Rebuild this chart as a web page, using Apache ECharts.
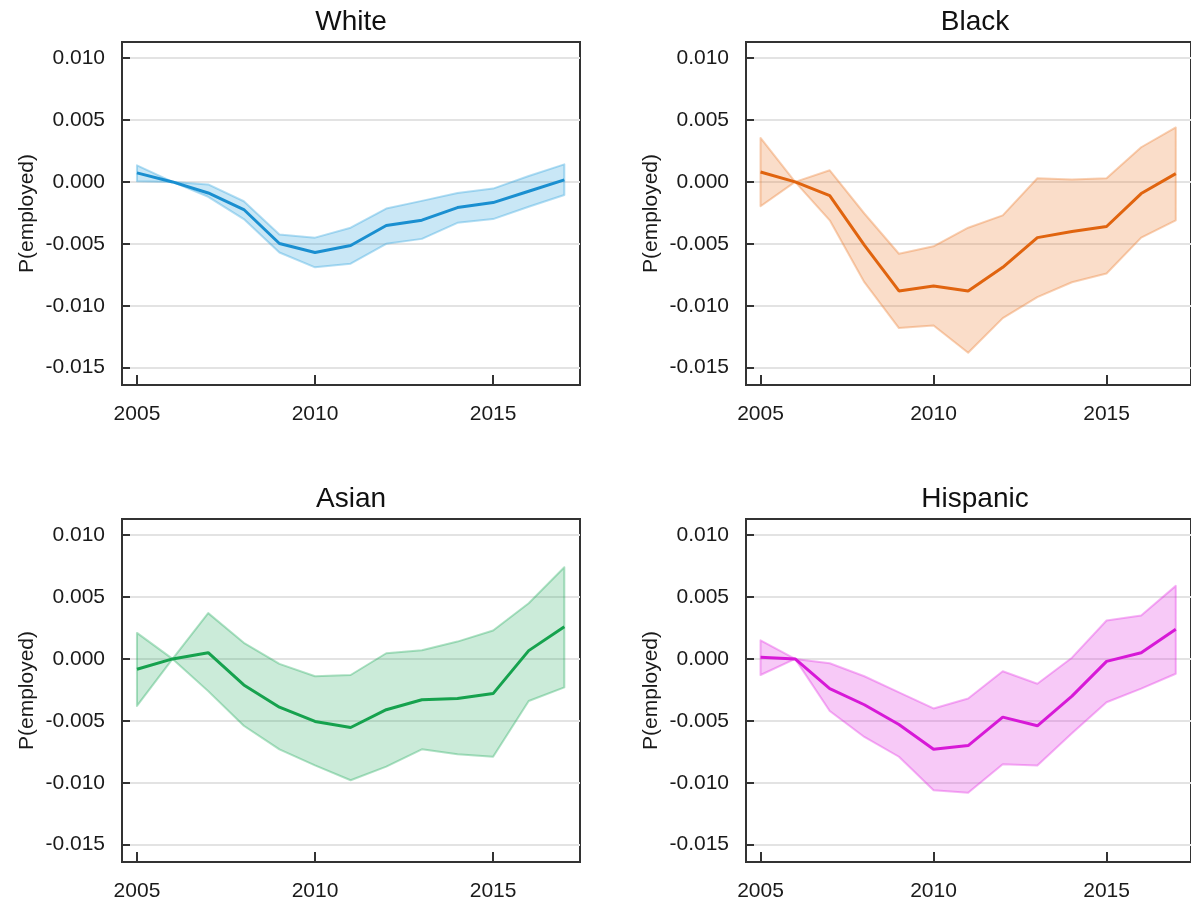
<!DOCTYPE html>
<html>
<head>
<meta charset="utf-8">
<script src="https://cdn.jsdelivr.net/npm/echarts@6/dist/echarts.min.js"></script>
<style>
  html, body { margin: 0; padding: 0; background: #fff; }
  #main { width: 1191px; height: 906px; }
</style>
</head>
<body>
<div id="main"></div>
<script>
// years on the x axis
const years = [2005, 2006, 2007, 2008, 2009, 2010, 2011, 2012, 2013, 2014, 2015, 2016, 2017];
const xTicks = [2005, 2010, 2015];
const yTicks = [-0.015, -0.010, -0.005, 0, 0.005, 0.010];

// White
const whiteMean  = [0.00073, 0, -0.00089, -0.00223, -0.00497, -0.0057, -0.00513, -0.00352, -0.00309, -0.00207, -0.00167, -0.00075, 0.00017];
const whiteUpper = [0.00134, 0, -0.0002, -0.00156, -0.00425, -0.0045, -0.0037, -0.00215, -0.00153, -0.00089, -0.00054, 0.00048, 0.00142];
const whiteLower = [0.00005, 0, -0.0012, -0.003, -0.0057, -0.0069, -0.0066, -0.005, -0.0046, -0.0033, -0.003, -0.002, -0.00105];

// Black
const blackMean  = [0.0008, 0, -0.0011, -0.0051, -0.0088, -0.0084, -0.0088, -0.0069, -0.0045, -0.004, -0.0036, -0.00094, 0.00067];
const blackUpper = [0.00355, 0, 0.00094, -0.00255, -0.0058, -0.0052, -0.0037, -0.0027, 0.0003, 0.0002, 0.0003, 0.0028, 0.0044];
const blackLower = [-0.00196, 0, -0.0031, -0.0081, -0.0118, -0.0116, -0.0138, -0.011, -0.0093, -0.0081, -0.0074, -0.0045, -0.0031];

// Asian
const asianMean  = [-0.00083, 0, 0.0005, -0.0021, -0.0039, -0.00505, -0.00554, -0.0041, -0.0033, -0.0032, -0.0028, 0.00067, 0.0026];
const asianUpper = [0.0021, 0, 0.0037, 0.0013, -0.0004, -0.0014, -0.0013, 0.00046, 0.0007, 0.0014, 0.0023, 0.0045, 0.0074];
const asianLower = [-0.0038, 0, -0.0026, -0.0054, -0.0073, -0.0086, -0.0098, -0.0087, -0.0073, -0.0077, -0.0079, -0.0034, -0.0023];

// Hispanic
const hispMean  = [0.00013, 0, -0.0024, -0.0037, -0.0053, -0.0073, -0.007, -0.0047, -0.0054, -0.003, -0.0002, 0.0005, 0.0024];
const hispUpper = [0.0015, 0, -0.00035, -0.0014, -0.0027, -0.004, -0.0032, -0.001, -0.002, 0.0001, 0.0031, 0.0035, 0.0059];
const hispLower = [-0.0013, 0, -0.0042, -0.0063, -0.0079, -0.0106, -0.0108, -0.0085, -0.0086, -0.006, -0.0035, -0.0024, -0.0012];

const font = 'Arial, "Liberation Sans", sans-serif';

const panels = [
  { name: 'White',    mean: whiteMean, upper: whiteUpper, lower: whiteLower, line: '#1a8fd0', fill: 'rgba(40,160,220,0.25)', edge: 'rgba(40,160,220,0.35)', left: 122, top: 42 },
  { name: 'Black',    mean: blackMean, upper: blackUpper, lower: blackLower, line: '#e0640f', fill: 'rgba(235,120,40,0.25)', edge: 'rgba(235,120,40,0.35)', left: 746, top: 42 },
  { name: 'Asian',    mean: asianMean, upper: asianUpper, lower: asianLower, line: '#16a24e', fill: 'rgba(30,170,90,0.23)',  edge: 'rgba(30,170,90,0.35)',  left: 122, top: 519 },
  { name: 'Hispanic', mean: hispMean,  upper: hispUpper,  lower: hispLower,  line: '#d719d7', fill: 'rgba(225,40,225,0.25)', edge: 'rgba(225,40,225,0.35)', left: 746, top: 519 }
];
const boxW = 458, boxH = 343;

// band polygon drawn once from all points of the series
function bandRender(fill, edge) {
  return function (params, api) {
    if (params.dataIndexInside !== 0) return;
    const n = params.dataInsideLength;
    const top = [], bot = [];
    for (let i = 0; i < n; i++) {
      top.push(api.coord([api.value(0, i), api.value(2, i)]));
      bot.push(api.coord([api.value(0, i), api.value(1, i)]));
    }
    return {
      type: 'polygon',
      shape: { points: top.concat(bot.reverse()) },
      style: { fill: fill, stroke: edge, lineWidth: 2, lineJoin: 'round' }
    };
  };
}

const grid = [], xAxis = [], yAxis = [], series = [], graphic = [];
panels.forEach((p, i) => {
  grid.push({ left: p.left, top: p.top, width: boxW, height: boxH, show: true, borderColor: '#333', borderWidth: 2, backgroundColor: 'transparent' });
  xAxis.push({
    gridIndex: i, type: 'value', min: 2004.58, max: 2017.44,
    axisLine: { onZero: false, lineStyle: { color: '#333', width: 2 } },
    axisTick: { inside: true, length: 10, customValues: xTicks, lineStyle: { color: '#333', width: 2 } },
    axisLabel: { customValues: xTicks, fontSize: 21, fontFamily: font, color: '#1a1a1a', margin: 19,
      formatter: v => String(v) },
    splitLine: { show: false }
  });
  yAxis.push({
    gridIndex: i, type: 'value', min: -0.0164, max: 0.0113,
    name: 'P(employed)', nameLocation: 'middle', nameGap: 84,
    nameTextStyle: { fontSize: 21, fontFamily: font, color: '#1a1a1a' },
    axisLine: { onZero: false, lineStyle: { color: '#333', width: 2 } },
    axisTick: { inside: true, length: 8, customValues: yTicks, lineStyle: { color: '#333', width: 2 } },
    axisLabel: { customValues: yTicks, fontSize: 21, fontFamily: font, color: '#1a1a1a', margin: 17,
      formatter: v => v.toFixed(3) },
    splitLine: { show: true, lineStyle: { color: '#e3e3e3', width: 2 } }
  });
  series.push({
    type: 'custom', xAxisIndex: i, yAxisIndex: i,
    data: years.map((y, k) => [y, p.lower[k], p.upper[k]]),
    encode: { x: 0, y: [1, 2] },
    renderItem: bandRender(p.fill, p.edge),
    silent: true, z: 2
  });
  series.push({
    type: 'line', xAxisIndex: i, yAxisIndex: i,
    data: years.map((y, k) => [y, p.mean[k]]),
    showSymbol: false, lineStyle: { color: p.line, width: 3 },
    itemStyle: { color: p.line }, z: 3, silent: true
  });
  graphic.push({
    type: 'text', x: p.left + boxW / 2, y: p.top - 20,
    style: { text: p.name, font: '28px ' + font, fill: '#111', textAlign: 'center', textVerticalAlign: 'middle' }
  });
});

const chart = echarts.init(document.getElementById('main'));
chart.setOption({
  animation: false,
  backgroundColor: '#fff',
  grid: grid,
  xAxis: xAxis,
  yAxis: yAxis,
  series: series,
  graphic: graphic
});
</script>
</body>
</html>
